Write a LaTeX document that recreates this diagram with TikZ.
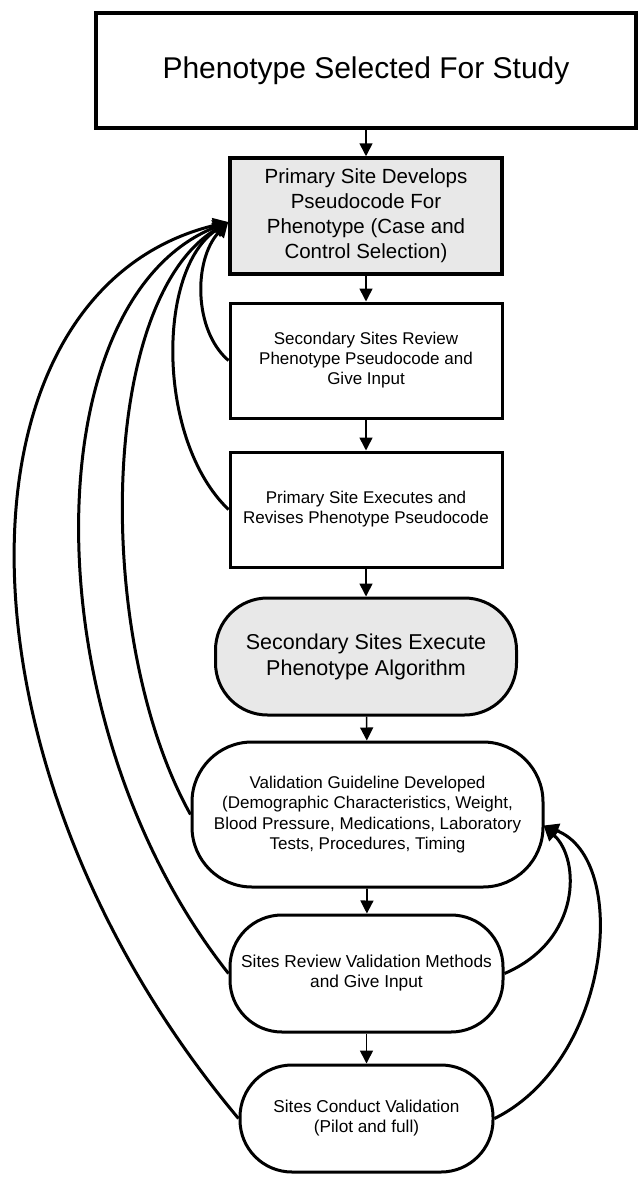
\documentclass[tikz,border=0pt]{standalone}
\usepackage{fontspec}
\setmainfont{Liberation Sans}
\usetikzlibrary{arrows.meta,calc}
\tikzset{
  box/.style={draw, line width=3pt, inner sep=0pt, align=center},
  pill/.style={box, rounded corners=52pt},
  shaded/.style={fill=black!9},
  flow/.style={line width=1.6pt, -{Triangle[width=13pt,length=13pt]}},
  back/.style={line width=3pt, -{Triangle[width=15pt,length=15pt]}},
}

\begin{document}
\begin{tikzpicture}[x=1pt, y=-1pt]
\useasboundingbox (0,0) rectangle (638,1180);
\node[box, line width=4pt, minimum width=540pt, minimum height=115pt,
    font=\fontsize{30}{34}\selectfont] (study) at (366,70.5)
    {Phenotype Selected For Study};
\node[box, shaded, line width=3.5pt, minimum width=272pt, minimum height=116pt,
    font=\fontsize{20.5}{25}\selectfont] (primary) at (366,216)
    {Primary Site Develops\\Pseudocode For\\Phenotype (Case and\\Control Selection)};
\node[box, minimum width=272pt, minimum height=115pt,
    font=\fontsize{17}{20}\selectfont] (review) at (366,360.5)
    {Secondary Sites Review\\Phenotype Pseudocode and\\Give Input};
\node[box, minimum width=272pt, minimum height=115pt,
    font=\fontsize{17}{20}\selectfont] (exec) at (366,509.5)
    {Primary Site Executes and\\Revises Phenotype Pseudocode};
\node[pill, shaded, minimum width=301pt, minimum height=117pt,
    font=\fontsize{21.5}{26}\selectfont] (algo) at (366,656.5)
    {Secondary Sites Execute\\Phenotype Algorithm};
\node[pill, rounded corners=60pt, minimum width=351pt, minimum height=145pt,
    font=\fontsize{17}{20.5}\selectfont] (valid) at (367.5,814.5)
    {Validation Guideline Developed\\(Demographic Characteristics, Weight,\\Blood Pressure, Medications, Laboratory\\Tests, Procedures, Timing};
\node[pill, minimum width=273pt, minimum height=117pt,
    font=\fontsize{17.3}{20}\selectfont] (checks) at (366.5,973.5)
    {Sites Review Validation Methods\\and Give Input};
\node[pill, minimum width=253pt, minimum height=107pt,
    font=\fontsize{17.2}{20}\selectfont] (conduct) at (366.5,1118.5)
    {Sites Conduct Validation\\(Pilot and full)};

\coordinate (fbl) at ($(primary.west)+(0,6)$);
\coordinate (fbr) at ($(valid.east)+(-1,11)$);

\draw[flow] (study) -- (primary);
\draw[flow] (primary) -- (review);
\draw[flow] (review) -- (exec);
\draw[flow] (exec) -- (algo);
\draw[flow] (algo) -- (valid);
\draw[flow] (valid) -- (checks);
\draw[flow] (checks) -- (conduct);

% loops back to the pseudocode
\draw[back] (review.west) .. controls +(-35,-30) and +(-35,38) .. (fbl);
\draw[back] (exec.west) .. controls +(-72,-69) and +(-72,48) .. (fbl);
\draw[back] (valid.west) .. controls +(-97,-174) and +(-130,78) .. (fbl);
\draw[back] (checks.west) .. controls +(-200,-253) and +(-195,78) .. (fbl);
\draw[back] (conduct.west) .. controls +(-300,-358) and +(-280,68) .. (fbl);

% loops back to the guideline
\draw[back] (checks.east) .. controls +(77,-33) and +(37,34) .. (fbr);
\draw[back] (conduct.east) .. controls +(117,-58) and +(87,34) .. (fbr);
\end{tikzpicture}
\end{document}
